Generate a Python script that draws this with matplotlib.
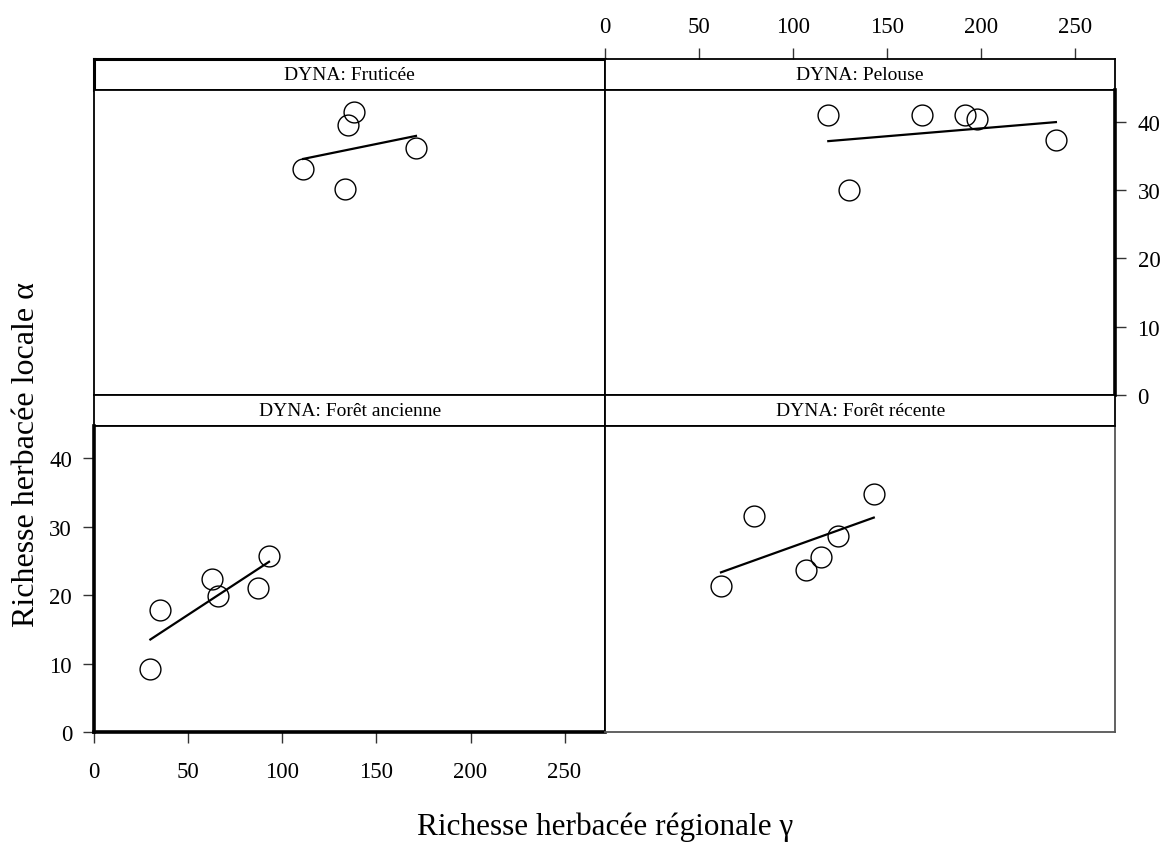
import matplotlib.pyplot as plt
import numpy as np

plt.rcParams['font.family'] = ['Liberation Serif', 'DejaVu Serif']

# data (x = regional gamma richness, y = local alpha richness)
panel_titles = ['DYNA: Fruticée', 'DYNA: Pelouse', 'DYNA: Forêt ancienne', 'DYNA: Forêt récente']

fruticee_x = [111.0, 133.1, 135.0, 138.1, 171.0]
fruticee_y = [33.1, 30.1, 39.5, 41.4, 36.2]

pelouse_x = [118.8, 129.7, 168.7, 191.8, 197.8, 239.9]
pelouse_y = [41.0, 30.0, 41.0, 41.0, 40.4, 37.3]

ancienne_x = [29.8, 34.9, 62.7, 65.8, 87.0, 92.9]
ancienne_y = [9.25, 17.9, 22.4, 19.9, 21.0, 25.7]

recente_x = [61.7, 79.4, 106.9, 114.8, 123.7, 143.0]
recente_y = [21.3, 31.6, 23.7, 25.6, 28.6, 34.8]

x_ticks = [0, 50, 100, 150, 200, 250]
y_ticks = [0, 10, 20, 30, 40]

W, H = 1170, 845
XLIM = (0, 271.5)
YLIM = (0, 44.7)


def box(x0, y0, x1, y1):
    # pixel box (top-left origin) -> figure fraction rect
    return [x0 / W, 1 - y1 / H, (x1 - x0) / W, (y1 - y0) / H]


fig = plt.figure(figsize=(W / 100, H / 100), dpi=100)

cols = [(94.3, 605.0), (605.0, 1115.3)]
rows = [((60.0, 90.7), (90.7, 396.0)), ((396.0, 427.3), (427.3, 733.0))]

data = [(fruticee_x, fruticee_y), (pelouse_x, pelouse_y),
        (ancienne_x, ancienne_y), (recente_x, recente_y)]

tick_kw = dict(direction='out', length=8, width=1.0, color='#333333',
               labelsize=16.5, pad=8)

for i, (title, (xs, ys)) in enumerate(zip(panel_titles, data)):
    r, c = divmod(i, 2)
    (sx0, sx1) = cols[c]
    (st, sb), (pt, pb) = rows[r]

    # strip
    sax = fig.add_axes(box(sx0, st, sx1, sb))
    sax.set_xlim(XLIM)
    sax.set_ylim(0, 1)
    sax.set_yticks([])
    sax.set_xticks([])
    for sp in sax.spines.values():
        sp.set_linewidth(1.3)
    sax.text(0.5, 0.5, title, transform=sax.transAxes, ha='center',
             va='center', fontsize=14)

    # panel
    ax = fig.add_axes(box(sx0, pt, sx1, pb))
    ax.set_xlim(XLIM)
    ax.set_ylim(YLIM)
    ax.set_xticks([])
    ax.set_yticks([])
    for sp in ax.spines.values():
        sp.set_linewidth(1.3)

    xs = np.array(xs)
    ys = np.array(ys)
    ax.plot(xs, ys, 'o', ms=15, mfc='none', mec='black', mew=1.0)
    slope, icpt = np.polyfit(xs, ys, 1)
    xl = np.array([xs.min(), xs.max()])
    ax.plot(xl, icpt + slope * xl, color='black', lw=1.6)

    if i == 0:
        sax.spines['top'].set_linewidth(2.2)
        sax.spines['left'].set_linewidth(2.2)
    if i == 1:
        # top axis above the strip, right axis on the panel
        sax.set_xticks(x_ticks)
        sax.xaxis.tick_top()
        sax.tick_params(axis='x', **tick_kw)
        ax.set_yticks(y_ticks)
        ax.yaxis.tick_right()
        ax.tick_params(axis='y', **tick_kw)
        ax.spines['right'].set_linewidth(2.6)
    if i == 2:
        ax.set_xticks(x_ticks)
        ax.set_yticks(y_ticks)
        ax.tick_params(axis='both', **tick_kw)
        ax.tick_params(axis='x', pad=13)
        ax.spines['left'].set_linewidth(2.6)
        ax.spines['bottom'].set_linewidth(2.6)
    if i == 3:
        ax.spines['right'].set_color('#555555')
        ax.spines['bottom'].set_color('#555555')

fig.text(27 / W, 1 - 627 / H, 'Richesse herbacée locale α', rotation=90,
         ha='center', va='bottom', fontsize=23)
fig.text(604.7 / W, 1 - 827 / H, 'Richesse herbacée régionale γ',
         ha='center', va='center', fontsize=22.5)

fig.savefig('out.png', dpi=100, facecolor='white')
